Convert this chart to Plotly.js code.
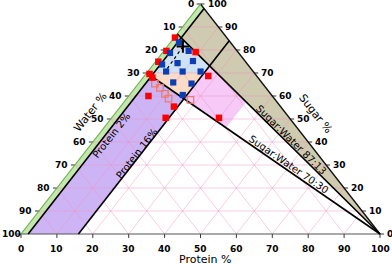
<!DOCTYPE html>
<html><head><meta charset="utf-8">
<script src="https://cdn.plot.ly/plotly-3.0.1.min.js"></script>
<style>html,body{margin:0;padding:0;background:#fff}#chart{width:392px;height:265px}</style>
</head><body><div id="chart"></div>
<script>
// ---- Data: compositions as (sugar %, water %, protein %) ----
const redSugar   = [85.4, 79.6, 79.1, 74.9, 69.6, 68.0, 68.7, 60.0, 55.4, 50.5, 50.5];
const redWater   = [14.4, 19.7, 11.8, 24.3, 29.4, 29.4, 13.5, 34.5, 29.7, 34.45, 19.6];
const redProtein = [0.2, 0.7, 9.1, 0.8, 1.0, 2.6, 17.8, 5.5, 14.9, 15.05, 29.9];

const blueSugar   = [83.3, 79.6, 78.7, 75.2, 73.7, 74.3, 70.65, 70.65, 70.65, 65.9, 65.4, 60.65];
const blueWater   = [14.35, 13.5, 19.15, 14.5, 23.85, 19.25, 24.25, 19.65, 14.65, 24.65, 19.8, 24.8];
const blueProtein = [2.35, 6.9, 2.15, 10.3, 2.45, 6.45, 5.1, 9.7, 14.7, 9.45, 14.8, 14.9];

const openSugar   = [65.4, 63.5, 60.9, 58.9, 58.3];
const openWater   = [30.0, 29.55, 29.45, 29.45, 23.65];
const openProtein = [4.6, 6.95, 9.65, 11.65, 18.05];

const plusSugar = [81.5], plusWater = [14.15], plusProtein = [4.35];
const dotSugar = [81.5, 69.3], dotWater = [14.15, 25.8], dotProtein = [4.35, 4.9];

// boundaries of the regions
const proteinLow = 2, proteinHigh = 16, proteinPink = 34;
const ratioHigh = [87, 13], ratioLow = [70, 30];
const sugarSplit = 70;

const tickVals = [0,10,20,30,40,50,60,70,80,90,100];
const gridVals = [10,20,30,40,50,60,70,80,90];

// ---- ternary -> cartesian ----
function tx(s,w,p){ const t=s+w+p; return (p + s/2)/t*100; }
function ty(s,w,p){ const t=s+w+p; return s/t*100; }
function onRatio(r, p){ const f=r[0]/(r[0]+r[1]); return [f*(100-p),(1-f)*(100-p),p]; }
function withSugar(s, p){ return [s, 100-s-p, p]; }

const traces = [];
function poly(pts, fill){
  const x = pts.map(q=>tx(...q)), y = pts.map(q=>ty(...q));
  x.push(x[0]); y.push(y[0]);
  traces.push({type:'scatter', mode:'lines', x, y, fill:'toself', fillcolor:fill,
    line:{width:0, color:fill}, hoverinfo:'skip'});
}
function seg(pts, color, width, dash){
  traces.push({type:'scatter', mode:'lines', x:pts.map(q=>tx(...q)), y:pts.map(q=>ty(...q)),
    line:{color, width, dash:dash||'solid'}, hoverinfo:'skip'});
}

// regions
poly([[100,0,0], [ratioHigh[0],ratioHigh[1],0], [0,0,100]], '#cfcbb0');
poly([[100,0,0],[0,100,0],[0,100-proteinLow,proteinLow],[100-proteinLow,0,proteinLow]], '#c4e7ae');
poly([onRatio(ratioLow,proteinLow), onRatio(ratioLow,proteinHigh), [0,100-proteinHigh,proteinHigh], [0,100-proteinLow,proteinLow]], '#cdb5f5');
poly([onRatio(ratioHigh,proteinLow), onRatio(ratioHigh,proteinHigh), withSugar(sugarSplit,proteinHigh), withSugar(sugarSplit,proteinLow)], '#cfe2f4');
poly([withSugar(sugarSplit,proteinLow), withSugar(sugarSplit,proteinHigh), onRatio(ratioLow,proteinHigh), onRatio(ratioLow,proteinLow)], '#fcdcc6');
poly([onRatio(ratioHigh,proteinHigh), onRatio(ratioHigh,proteinPink), onRatio(ratioLow,proteinPink), onRatio(ratioLow,proteinHigh)], '#f6c9f6');

// grid
{
  const gx=[], gy=[];
  gridVals.forEach(k=>{
    [[[k,100-k,0],[k,0,100-k]], [[100-k,k,0],[0,k,100-k]], [[0,100-k,k],[100-k,0,k]]].forEach(([a,b])=>{
      gx.push(tx(...a), tx(...b), null); gy.push(ty(...a), ty(...b), null);
    });
  });
  traces.push({type:'scatter', mode:'lines', x:gx, y:gy, line:{color:'rgba(240,140,190,0.55)', width:0.8}, hoverinfo:'skip'});
}

// ticks
{
  const kx=[], ky=[];
  tickVals.forEach(v=>{
    let x0=tx(100-v,v,0), y0=ty(100-v,v,0); kx.push(x0, x0-1.1, null); ky.push(y0, y0, null);
    x0=tx(v,0,100-v); y0=ty(v,0,100-v); kx.push(x0, x0+1.1, null); ky.push(y0, y0, null);
    x0=tx(0,100-v,v); y0=ty(0,100-v,v); kx.push(x0, x0, null); ky.push(y0, y0-1.7, null);
  });
  traces.push({type:'scatter', mode:'lines', x:kx, y:ky, line:{color:'#333', width:1}, hoverinfo:'skip'});
}

// edges and boundary lines
seg([[0,100,0],[0,0,100]], '#555', 1);
seg([[100,0,0],[0,0,100]], '#111', 1.3);
seg([[100,0,0],[0,100,0]], '#6fae50', 1.2);
seg([[0,100-proteinLow,proteinLow],[100-proteinLow,0,proteinLow]], '#000', 1.6);
seg([[0,100-proteinHigh,proteinHigh],[100-proteinHigh,0,proteinHigh]], '#000', 1.6);
seg([[ratioHigh[0],ratioHigh[1],0],[0,0,100]], '#000', 1.6);
seg([[ratioLow[0],ratioLow[1],0],[0,0,100]], '#000', 1.6);
traces.push({type:'scatter', mode:'lines', x:dotSugar.map((s,i)=>tx(s,dotWater[i],dotProtein[i])),
  y:dotSugar.map((s,i)=>ty(s,dotWater[i],dotProtein[i])), line:{color:'#000', width:1.2, dash:'dot'}, hoverinfo:'skip'});

// markers
function markers(S,W,P,marker){
  traces.push({type:'scatter', mode:'markers', x:S.map((s,i)=>tx(s,W[i],P[i])), y:S.map((s,i)=>ty(s,W[i],P[i])), marker, cliponaxis:false});
}
markers(openSugar, openWater, openProtein, {symbol:'square-open', size:6.5, color:'#ee7b6c', line:{width:1.3, color:'#ee7b6c'}});
markers(redSugar, redWater, redProtein, {symbol:'square', size:6.5, color:'#ff0000', line:{width:0}});
markers(blueSugar, blueWater, blueProtein, {symbol:'square', size:6.2, color:'#0b3db5', line:{width:0}});
markers(plusSugar, plusWater, plusProtein, {symbol:'cross-thin', size:9, color:'#000', line:{width:2, color:'#000'}});

// annotations
const F = 'DejaVu Sans, Verdana, sans-serif';
const ann = [];
tickVals.forEach(v=>{
  const left = {x:tx(100-v,v,0), y:ty(100-v,v,0), text:String(v), xanchor:'right', yanchor:'middle', xshift:-5, showarrow:false, font:{family:F,size:9,color:'#000',weight:'bold'}};
  if (v === 100) { left.xanchor = 'left'; left.xshift = -21; }
  ann.push(left);
  ann.push({x:tx(v,0,100-v), y:ty(v,0,100-v), text:String(v), xanchor:'left', yanchor:'middle', xshift:5, showarrow:false, font:{family:F,size:9,color:'#000',weight:'bold'}});
  ann.push({x:tx(0,100-v,v), y:ty(0,100-v,v), text:String(v), xanchor:'center', yanchor:'middle', yshift:-15, showarrow:false, font:{family:F,size:9,color:'#000',weight:'bold'}});
});
function lab(text, x, y, ang, size){ ann.push({x, y, text, textangle:ang, showarrow:false, xanchor:'center', yanchor:'middle', font:{family:F,size:size,color:'#000'}}); }
lab('Protein %', 51.3, -10.9, 0, 11);
lab('Water %', 19.2, 53.0, -52, 11);
lab('Sugar %', 81.9, 52.2, 52, 11);
lab('Sugar:Water 87:13', 75.2, 40.9, 44.6, 10);
lab('Sugar:Water 70:30', 74.65, 30.4, 34.6, 10);
lab('Protein 2%', 25.07, 43.0, -52, 10);
lab('Protein 16%', 32.3, 34.8, -52, 10);

const layout = {
  width:392, height:265, margin:{l:0,r:0,t:0,b:0}, showlegend:false,
  paper_bgcolor:'#fff', plot_bgcolor:'#fff',
  xaxis:{range:[-21/3.59, 371/3.59], visible:false, fixedrange:true},
  yaxis:{range:[-31/2.3, 234/2.3], visible:false, fixedrange:true},
  annotations: ann
};
Plotly.newPlot('chart', traces, layout, {staticPlot:true, displayModeBar:false});
</script></body></html>
